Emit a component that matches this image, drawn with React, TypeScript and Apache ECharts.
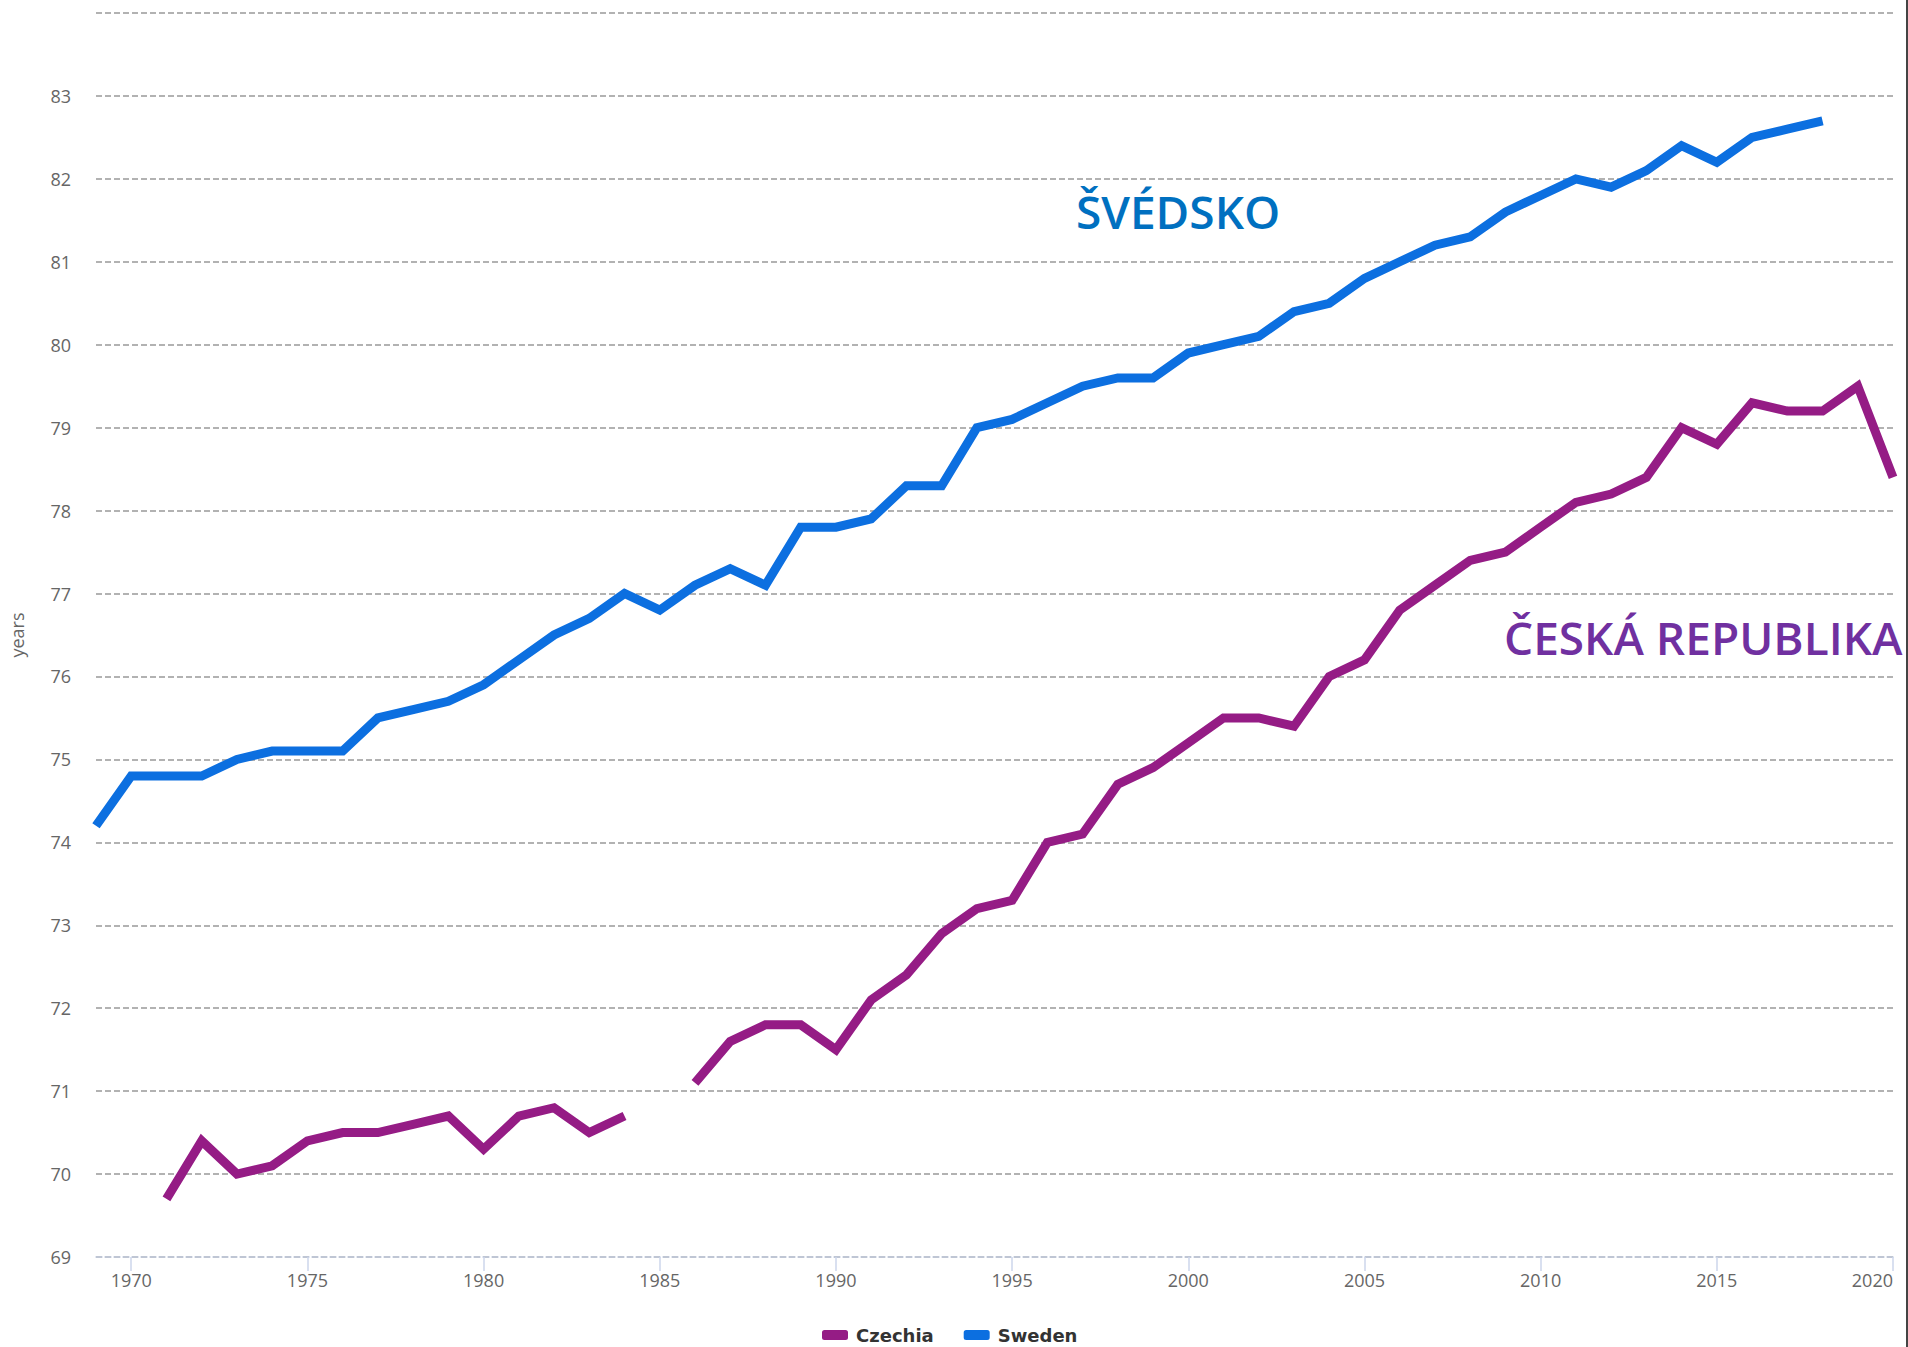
import React, { useEffect, useRef } from "react";
import * as echarts from "echarts";

const years: string[] = [];
for (let y = 1969; y <= 2020; y++) years.push(String(y));

// 1969 .. 2020
const czechia: (number | null)[] = [
  null, null,
  69.7, 70.4, 70.0, 70.1, 70.4, 70.5, 70.5, 70.6, 70.7, 70.3, 70.7, 70.8, 70.5, 70.7,
  null,
  71.1, 71.6, 71.8, 71.8, 71.5, 72.1, 72.4, 72.9, 73.2, 73.3, 74.0, 74.1, 74.7, 74.9,
  75.2, 75.5, 75.5, 75.4, 76.0, 76.2, 76.8, 77.1, 77.4, 77.5, 77.8, 78.1, 78.2, 78.4,
  79.0, 78.8, 79.3, 79.2, 79.2, 79.5, 78.4,
];

const sweden: (number | null)[] = [
  74.2, 74.8, 74.8, 74.8, 75.0, 75.1, 75.1, 75.1, 75.5, 75.6, 75.7, 75.9, 76.2, 76.5,
  76.7, 77.0, 76.8, 77.1, 77.3, 77.1, 77.8, 77.8, 77.9, 78.3, 78.3, 79.0, 79.1, 79.3,
  79.5, 79.6, 79.6, 79.9, 80.0, 80.1, 80.4, 80.5, 80.8, 81.0, 81.2, 81.3, 81.6, 81.8,
  82.0, 81.9, 82.1, 82.4, 82.2, 82.5, 82.6, 82.7, null, null,
];

const seriesNames = ["Czechia", "Sweden"];
const seriesColors = ["#951c85", "#0c6fe0"];
const annotations = ["ŠVÉDSKO", "ČESKÁ REPUBLIKA"];

export default function App() {
  const ref = useRef<HTMLDivElement>(null);
  useEffect(() => {
    document.body.style.margin = "0";
    const chart = echarts.init(ref.current!, null, { renderer: "svg" });
    const tickShow = (i: number) => (1969 + i) % 5 === 0;
    chart.setOption({
      animation: false,
      backgroundColor: "#ffffff",
      grid: { left: 92, right: 15, top: 13, bottom: 90, containLabel: false },
      legend: {
        data: seriesNames,
        left: 817,
        top: 1321,
        itemWidth: 26,
        itemHeight: 10,
        itemGap: 30,
        icon: "roundRect",
        textStyle: { fontFamily: "DejaVu Sans", fontWeight: "bold", fontSize: 18, color: "#333333", padding: [0, 0, 0, 3] },
      },
      xAxis: {
        type: "category",
        data: years,
        boundaryGap: false,
        axisLine: { show: true, lineStyle: { color: "#c4cde0", width: 1.5, type: [6, 3] } },
        axisTick: {
          show: true,
          length: 14,
          interval: (i: number) => tickShow(i),
          lineStyle: { color: "#ccd6eb", width: 1.5 },
        },
        axisLabel: {
          interval: (i: number) => tickShow(i),
          margin: 14,
          fontFamily: "Open Sans",
          fontSize: 18,
          color: "#666666",
          alignMaxLabel: "right",
        },
        splitLine: { show: false },
      },
      yAxis: {
        type: "value",
        min: 69,
        max: 84,
        interval: 1,
        name: "years",
        nameLocation: "middle",
        nameGap: 70,
        nameRotate: 90,
        nameTextStyle: { fontFamily: "Open Sans", fontSize: 18, color: "#666666" },
        axisLine: { show: false },
        axisTick: { show: false },
        axisLabel: {
          margin: 25,
          fontFamily: "Open Sans",
          fontSize: 18,
          color: "#666666",
          showMaxLabel: false,
        },
        splitLine: { show: true, lineStyle: { color: "#999999", width: 1.5, type: [6, 3] } },
      },
      series: [
        {
          name: seriesNames[0],
          type: "line",
          data: czechia,
          connectNulls: false,
          showSymbol: false,
          symbol: "none",
          color: seriesColors[0],
          lineStyle: { width: 9, color: seriesColors[0], join: "miter" },
        },
        {
          name: seriesNames[1],
          type: "line",
          data: sweden,
          connectNulls: false,
          showSymbol: false,
          symbol: "none",
          color: seriesColors[1],
          lineStyle: { width: 9, color: seriesColors[1], join: "miter" },
        },
      ],
      graphic: [
        {
          type: "text",
          left: 1076,
          top: 188,
          style: {
            text: annotations[0],
            fill: "#0070c0",
            font: "600 46px 'Open Sans'",
          },
        },
        {
          type: "text",
          left: 1504,
          top: 614,
          style: {
            text: annotations[1],
            fill: "#7030a0",
            font: "600 46px 'Open Sans'",
          },
        },
        {
          type: "rect",
          left: 1906,
          top: 0,
          shape: { width: 2, height: 1347 },
          style: { fill: "#444444" },
        },
      ],
    });
    return () => chart.dispose();
  }, []);
  return <div ref={ref} style={{ width: 1908, height: 1347 }} />;
}
